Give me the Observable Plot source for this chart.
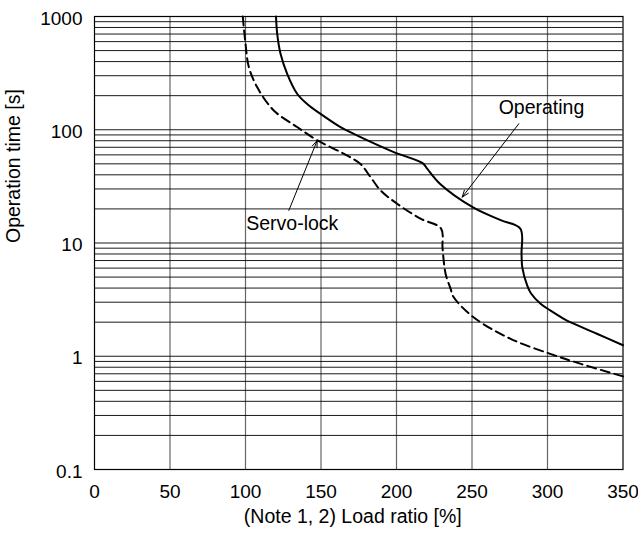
<!DOCTYPE html>
<html><head><meta charset="utf-8">
<script src="https://cdn.jsdelivr.net/npm/d3@7"></script>
<script src="https://cdn.jsdelivr.net/npm/@observablehq/plot@0.6"></script>
<style>body{margin:0;background:#fff} #chart svg{display:block}</style>
</head><body><div id="chart"></div>
<script>
// Operating curve (solid)
const operatingLoad = [120.2, 121, 123.2, 127.6, 134.2, 141, 149.7, 162.9, 171.7, 198.2, 217.5, 220.3, 229.1, 251, 269, 282, 282.8, 283.3, 286.6, 289, 295.4, 301.8, 310.8, 315, 332.7, 350];
const operatingTime = [1000, 703, 469, 312, 208, 168, 138, 105.5, 92, 63.5, 50.5, 45.3, 33, 20.5, 15.9, 13.4, 8, 6.1, 4.2, 3.6, 2.91, 2.54, 2.14, 2.0, 1.58, 1.25];
// Servo-lock curve (dashed)
const servoLoad = [98.2, 100, 102.2, 107.7, 118.7, 134.2, 148, 165, 176, 182.8, 189.4, 200.4, 215.9, 229.5, 230.5, 232.5, 235.8, 237.8, 251, 275.3, 301.8, 321.6, 350];
const servoTime = [1000, 577, 358, 238, 148, 105.7, 80, 61.5, 50, 38.2, 29.2, 22.2, 16.4, 13.4, 9, 5.36, 3.95, 3.33, 2.21, 1.43, 1.05, 0.86, 0.664];

const xTicks = [0, 50, 100, 150, 200, 250, 300, 350];
const yTicks = [0.1, 1, 10, 100, 1000];
const yGrid = [];
for (const dec of [0.1, 1, 10, 100]) for (let k = 1; k <= 9; k++) yGrid.push(+(dec * k).toPrecision(3));

const labelText = ["Operating", "Servo-lock"];
const labelX = [296, 131];
const labelY = [157, 14.9];
const arrowX1 = [281, 128.7];
const arrowY1 = [113, 19.4];
const arrowX2 = [243.5, 147.5];
const arrowY2 = [25.4, 80.4];

const operating = operatingLoad.map((x, i) => ({x, y: operatingTime[i]}));
const servo = servoLoad.map((x, i) => ({x, y: servoTime[i]}));
const labels = labelText.map((t, i) => ({t, x: labelX[i], y: labelY[i]}));
const arrows = arrowX1.map((x1, i) => ({x1, y1: arrowY1[i], x2: arrowX2[i], y2: arrowY2[i]}));

const font = "'Liberation Sans', Arial, sans-serif";
const chart = Plot.plot({
  width: 638, height: 533,
  marginLeft: 94, marginRight: 15.5, marginTop: 16, marginBottom: 64,
  style: {fontFamily: font, fontSize: "19px", color: "#000", background: "#fff"},
  x: {domain: [0, 350]},
  y: {type: "log", domain: [0.1, 1000]},
  marks: [
    Plot.ruleX(xTicks.slice(1, -1), {stroke: "#666", strokeWidth: 1.2}),
    Plot.ruleY(yGrid, {stroke: "#000", strokeWidth: 0.9}),
    Plot.frame({stroke: "#000", strokeWidth: 1.2}),
    Plot.axisX({ticks: xTicks, tickSize: 0, tickPadding: 15, tickFormat: d => String(d), label: null}),
    Plot.axisY({ticks: yTicks, tickSize: 0, tickPadding: 12, tickFormat: d => String(d), label: null, dy: 2}),
    Plot.line(servo, {x: "x", y: "y", stroke: "#000", strokeWidth: 2, strokeDasharray: "9,5", curve: "catmull-rom"}),
    Plot.line(operating, {x: "x", y: "y", stroke: "#000", strokeWidth: 2, curve: "catmull-rom"}),
    Plot.arrow(arrows, {x1: "x1", y1: "y1", x2: "x2", y2: "y2", stroke: "#000", strokeWidth: 1, headLength: 11, headAngle: 40}),
    Plot.text(labels, {x: "x", y: "y", text: "t", fontSize: 19.5, fill: "#000"}),
    Plot.text(["Operation time [s]"], {text: d => d, frameAnchor: "left", dx: -81, rotate: -90, fontSize: 19.5}),
    Plot.text(["(Note 1, 2) Load ratio [%]"], {text: d => d, frameAnchor: "bottom", dy: 53, dx: -6, fontSize: 19.5})
  ]
});
document.getElementById("chart").appendChild(chart);
</script>
</body></html>
